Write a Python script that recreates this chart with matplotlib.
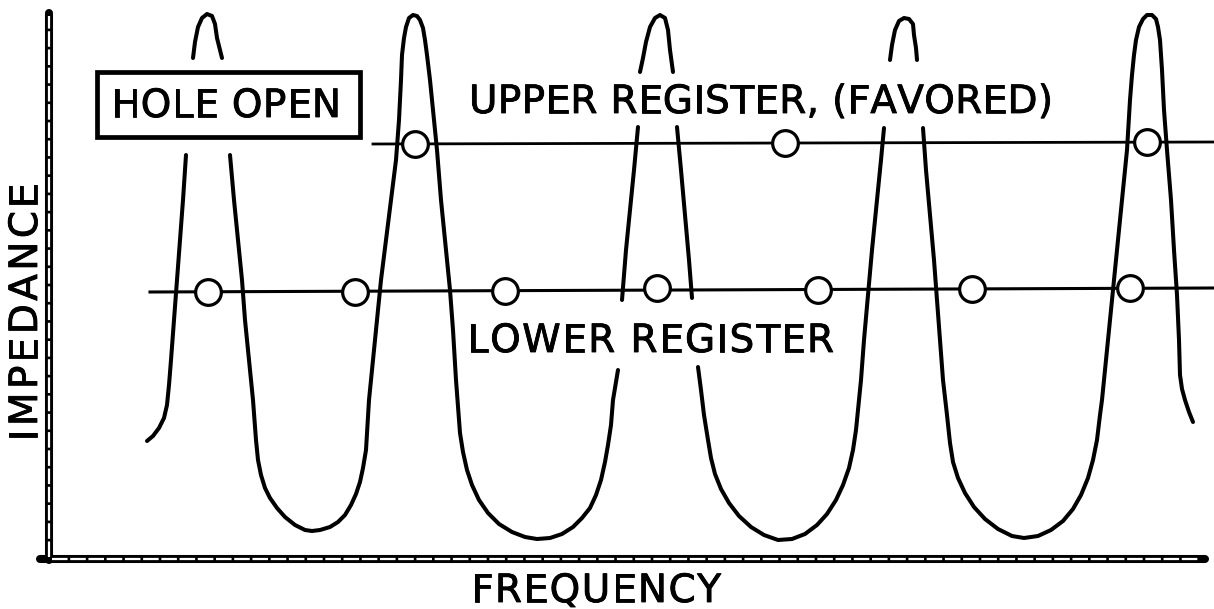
import matplotlib
matplotlib.use("Agg")
import matplotlib.pyplot as plt
import matplotlib.patheffects as pe
from matplotlib.patches import Rectangle
from matplotlib.font_manager import FontProperties, findfont
from matplotlib.ft2font import FT2Font

# ---------------- data (frequency, impedance) ----------------
# impedance curve, drawn as separate pen strokes (gaps where labels sit)
stroke_a = [(98, 118), (104, 123), (110, 131), (115, 141), (118, 154), (120, 174), (122, 199),
            (125, 239), (128, 279), (131, 319), (134, 359), (137, 404)]
cap_1 = [(144, 501), (146, 517), (149, 532), (153, 541), (158, 545), (163, 543), (166, 535),
         (168, 521), (171, 509), (173, 501)]
stroke_b = [(181, 404), (185, 359), (189, 319), (193, 279), (196, 239), (200, 199), (204, 159),
            (207, 119), (209, 99), (212, 84), (216, 71), (221, 61), (228, 51), (236, 42), (246, 34),
            (256, 29), (263, 28), (271, 29), (281, 32), (289, 37), (296, 44), (302, 54), (307, 65),
            (311, 77), (314, 91), (317, 109), (320, 159), (324, 199), (328, 239), (332, 279),
            (337, 319), (342, 359), (347, 399), (350, 439), (352, 479), (353, 504), (355, 521),
            (357, 532), (360, 541), (364, 544), (368, 543), (371, 539), (374, 531), (376, 519),
            (378, 504), (381, 479), (384, 449), (388, 409), (392, 359), (397, 309), (401, 269),
            (404, 229), (407, 179), (411, 126), (414, 107), (418, 89), (423, 74), (430, 59),
            (439, 46), (450, 35), (463, 27), (476, 22), (488, 20), (501, 21), (513, 25), (524, 32),
            (533, 41), (541, 51), (547, 64), (552, 79), (556, 97), (559, 114), (562, 134),
            (564, 159), (569, 189)]
stroke_c = [(589, 432), (585, 389), (581, 349), (577, 309), (573, 259)]
cap_3 = [(591, 487), (594, 501), (597, 517), (601, 532), (606, 541), (611, 544), (616, 541),
         (619, 529), (621, 509), (624, 487)]
stroke_d = [(628, 432), (632, 389), (636, 344), (640, 299), (643, 261)]
stroke_e = [(649, 192), (652, 169), (655, 144), (659, 119), (662, 101), (666, 85), (672, 70),
            (680, 56), (690, 43), (702, 32), (715, 24), (729, 19), (743, 20), (756, 25), (768, 34),
            (778, 45), (787, 59), (794, 74), (800, 91), (804, 109), (807, 129), (810, 159),
            (812, 179), (815, 219), (819, 264), (823, 309), (828, 359), (832, 399), (835, 431)]
cap_4 = [(841, 499), (843, 514), (846, 529), (850, 538), (855, 541), (860, 540), (864, 535),
         (865, 524), (867, 511), (868, 499)]
stroke_g = [(874, 431), (877, 389), (881, 344), (885, 299), (888, 259), (891, 219), (894, 179),
            (898, 144), (901, 116), (904, 97), (909, 81), (916, 66), (925, 52), (936, 40),
            (949, 30), (963, 23), (975, 21), (989, 23), (1002, 29), (1014, 38), (1024, 50),
            (1032, 64), (1039, 81), (1044, 99), (1048, 119), (1051, 144), (1053, 159), (1056, 189),
            (1059, 219), (1063, 259), (1068, 309), (1073, 359), (1078, 409), (1081, 459),
            (1083, 484), (1085, 504), (1087, 519), (1090, 532), (1094, 540), (1098, 544),
            (1103, 544), (1107, 540), (1109, 532), (1111, 519), (1113, 489), (1115, 449),
            (1118, 409), (1122, 359), (1125, 309), (1128, 264), (1130, 219), (1131, 184),
            (1133, 170), (1136, 159), (1140, 147), (1144, 137)]
curve_strokes = [stroke_a, cap_1, stroke_b, stroke_c, cap_3, stroke_d, stroke_e, cap_4, stroke_g]

# register lines and their resonance points
upper_line_f = [324, 1165]
upper_line_z = [415, 417]
upper_pts_f = [366, 736, 1098]
upper_pts_z = [415, 416, 417]

lower_line_f = [101, 1165]
lower_line_z = [267, 271]
lower_pts_f = [159, 306, 456, 608, 769, 923, 1081]
lower_pts_z = [267, 267, 268, 271, 269, 270, 271]

label_upper = "UPPER REGISTER, (FAVORED)"
label_lower = "LOWER REGISTER"
label_box = "HOLE OPEN"
label_x = "FREQUENCY"
label_y = "IMPEDANCE"

# ---------------- drawing ----------------
DPI = 100
fig = plt.figure(figsize=(12.14, 6.09), dpi=DPI)
fig.patch.set_facecolor("white")
ax = fig.add_axes([0, 0, 1, 1])
ax.set_xlim(-49, 1165)   # one data unit = one pixel
ax.set_ylim(-50, 559)
ax.axis("off")

ink = "black"
lw_curve = 2.9

for s in curve_strokes:
    fs, zs = zip(*s)
    ax.plot(fs, zs, color=ink, lw=lw_curve, solid_capstyle="round", solid_joinstyle="round", zorder=3)

ax.plot(upper_line_f, upper_line_z, color=ink, lw=2.0, zorder=2)
ax.plot(lower_line_f, lower_line_z, color=ink, lw=2.2, zorder=2)
ax.plot(upper_pts_f, upper_pts_z, ls="none", marker="o", ms=18.5, mfc="white", mec=ink, mew=2.3, zorder=4)
ax.plot(lower_pts_f, lower_pts_z, ls="none", marker="o", ms=18.5, mfc="white", mec=ink, mew=2.3, zorder=4)

# axes drawn as double-ruled lines
ax.plot([0, 0], [-1, 546], color=ink, lw=5.8, solid_capstyle="round", zorder=5)
ax.plot([0, 0], [2, 543], color="white", lw=1.6, dashes=(7, 1.2), zorder=6)
ax.plot([-9, 1156], [0, 0], color=ink, lw=5.8, solid_capstyle="round", zorder=5)
ax.plot([3, 1150], [0, 0], color="white", lw=1.6, dashes=(7, 1.2), zorder=6)

# labelled box
ax.add_patch(Rectangle((48, 422), 263, 65, fill=False, ec=ink, lw=3.4, zorder=3))

# lettering with widened spacing, like hand-stencilled text
FS = 28
prop = FontProperties(family="DejaVu Sans", size=FS)
ft = FT2Font(findfont(prop))
ft.set_size(FS, DPI)
heavier = [pe.withStroke(linewidth=0.6, foreground=ink)]


def advances(s):
    return [ft.load_char(ord(c)).linearHoriAdvance / 65536.0 for c in s]


def spaced_text(s, start, end, base, vertical=False):
    adv = advances(s)
    track = ((end - start) - sum(adv)) / max(len(s) - 1, 1)
    pos = start
    for c, a in zip(s, adv):
        if vertical:
            ax.text(base, pos, c, rotation=90, rotation_mode="anchor", ha="left", va="baseline",
                    fontproperties=prop, color=ink, path_effects=heavier)
        else:
            ax.text(pos, base, c, ha="left", va="baseline", fontproperties=prop, color=ink,
                    path_effects=heavier)
        pos += a + track


spaced_text(label_box, 62, 292, 442)
spaced_text(label_upper, 420, 1004, 446)
spaced_text(label_lower, 418, 785, 207)
spaced_text(label_x, 422, 672, -43)
spaced_text(label_y, 118, 376, -12, vertical=True)

fig.savefig("out.png", dpi=DPI, facecolor="white")
